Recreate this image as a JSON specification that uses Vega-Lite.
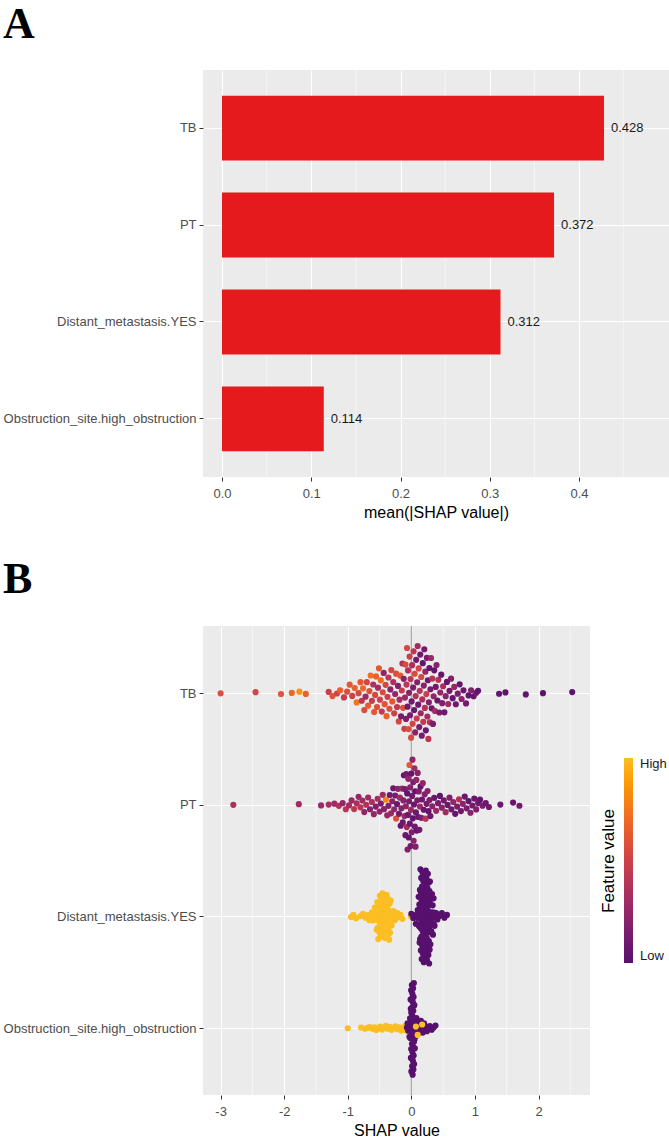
{
  "$schema": "https://vega.github.io/schema/vega-lite/v6.json",
  "padding": {"left": 3, "top": 2, "right": 0, "bottom": 0},
  "config": {
    "view": {"fill": "#EBEBEB", "stroke": null},
    "font": "Liberation Sans",
    "axis": {"domain": false, "labelColor": "#4D4D4D", "labelFontSize": 13, "labelFont": "Liberation Sans", "labelLimit": 320, "tickColor": "#333333", "tickSize": 4, "tickWidth": 1, "gridColor": "#FFFFFF", "gridWidth": 1.1, "titleFont": "Liberation Sans", "titleFontSize": 16, "titleFontWeight": "normal", "titleColor": "#000000"},
    "axisX": {"labelPadding": 6, "titlePadding": 4},
    "axisY": {"labelPadding": 3},
    "title": {"font": "Liberation Serif", "fontSize": 44, "fontWeight": "bold", "color": "#000000", "anchor": "start", "frame": "bounds"},
    "concat": {"spacing": 38}
  },
  "resolve": {"legend": {"color": "independent"}},
  "datasets": {
    "importance": [
      {"feature": "TB", "importance": 0.428},
      {"feature": "PT", "importance": 0.372},
      {"feature": "Distant_metastasis.YES", "importance": 0.312},
      {"feature": "Obstruction_site.high_obstruction", "importance": 0.114}
    ],
    "minorA": [{"tick": 0.05}, {"tick": 0.15}, {"tick": 0.25}, {"tick": 0.35}, {"tick": 0.45}],
    "minorB": [{"tick": -2.5}, {"tick": -1.5}, {"tick": -0.5}, {"tick": 0.5}, {"tick": 1.5}, {"tick": 2.5}],
    "TB": [
      {"shap":-3.00,"value":0.58},{"shap":-2.45,"value":0.52},{"shap":-2.05,"value":0.60},{"shap":-1.88,"value":0.70},{"shap":-1.76,"value":0.85},{"shap":-1.66,"value":0.66},
      {"shap":-1.30,"value":0.48},{"shap":-1.24,"value":0.60},{"shap":-1.17,"value":0.52},{"shap":-1.12,"value":0.66},{"shap":-1.06,"value":0.46},{"shap":-1.01,"value":0.58},
      {"shap":-0.97,"value":0.62},{"shap":-0.93,"value":0.50},{"shap":-0.89,"value":0.66},{"shap":-0.86,"value":0.74},{"shap":-0.83,"value":0.54},{"shap":-0.80,"value":0.62},
      {"shap":-0.78,"value":0.42},{"shap":-0.76,"value":0.68},{"shap":-0.74,"value":0.56},{"shap":-0.72,"value":0.28},{"shap":-0.70,"value":0.52},{"shap":-0.68,"value":0.64},
      {"shap":-0.66,"value":0.58},{"shap":-0.64,"value":0.72},{"shap":-0.62,"value":0.46},{"shap":-0.60,"value":0.36},{"shap":-0.585,"value":0.62},{"shap":-0.57,"value":0.54},
      {"shap":-0.555,"value":0.66},{"shap":-0.54,"value":0.58},{"shap":-0.525,"value":0.32},{"shap":-0.51,"value":0.62},{"shap":-0.495,"value":0.50},{"shap":-0.48,"value":0.70},
      {"shap":-0.465,"value":0.44},{"shap":-0.45,"value":0.56},{"shap":-0.435,"value":0.24},{"shap":-0.42,"value":0.60},{"shap":-0.405,"value":0.54},{"shap":-0.39,"value":0.66},
      {"shap":-0.375,"value":0.48},{"shap":-0.36,"value":0.40},{"shap":-0.345,"value":0.58},{"shap":-0.33,"value":0.20},{"shap":-0.315,"value":0.54},{"shap":-0.30,"value":0.62},
      {"shap":-0.285,"value":0.36},{"shap":-0.27,"value":0.50},{"shap":-0.255,"value":0.26},{"shap":-0.24,"value":0.58},{"shap":-0.225,"value":0.44},{"shap":-0.21,"value":0.18},
      {"shap":-0.198,"value":0.54},{"shap":-0.186,"value":0.32},{"shap":-0.174,"value":0.62},{"shap":-0.162,"value":0.14},{"shap":-0.150,"value":0.46},{"shap":-0.140,"value":0.36},
      {"shap":-0.130,"value":0.58},{"shap":-0.120,"value":0.20},{"shap":-0.110,"value":0.50},{"shap":-0.100,"value":0.28},{"shap":-0.092,"value":0.56},{"shap":-0.084,"value":0.16},
      {"shap":-0.076,"value":0.42},{"shap":-0.068,"value":0.54},{"shap":-0.060,"value":0.12},{"shap":-0.052,"value":0.38},{"shap":-0.044,"value":0.58},{"shap":-0.036,"value":0.22},
      {"shap":-0.028,"value":0.48},{"shap":-0.020,"value":0.14},{"shap":-0.012,"value":0.42},{"shap":-0.004,"value":0.56},{"shap":0.004,"value":0.10},{"shap":0.012,"value":0.36},
      {"shap":0.020,"value":0.52},{"shap":0.028,"value":0.16},{"shap":0.036,"value":0.42},{"shap":0.044,"value":0.08},{"shap":0.052,"value":0.56},{"shap":0.060,"value":0.22},
      {"shap":0.068,"value":0.38},{"shap":0.076,"value":0.12},{"shap":0.084,"value":0.46},{"shap":0.092,"value":0.18},{"shap":0.100,"value":0.32},{"shap":0.108,"value":0.08},
      {"shap":0.116,"value":0.52},{"shap":0.124,"value":0.14},{"shap":0.132,"value":0.40},{"shap":0.140,"value":0.10},{"shap":0.148,"value":0.28},{"shap":0.156,"value":0.54},
      {"shap":0.164,"value":0.16},{"shap":0.172,"value":0.34},{"shap":0.180,"value":0.06},{"shap":0.188,"value":0.44},{"shap":0.196,"value":0.20},{"shap":0.204,"value":0.12},
      {"shap":0.212,"value":0.38},{"shap":0.220,"value":0.26},{"shap":0.228,"value":0.08},{"shap":0.236,"value":0.48},{"shap":0.244,"value":0.14},{"shap":0.252,"value":0.32},
      {"shap":0.260,"value":0.10},{"shap":0.268,"value":0.42},{"shap":0.276,"value":0.18},{"shap":0.284,"value":0.06},{"shap":0.292,"value":0.36},{"shap":0.300,"value":0.14},
      {"shap":0.310,"value":0.28},{"shap":0.320,"value":0.08},{"shap":0.330,"value":0.40},{"shap":0.340,"value":0.16},{"shap":0.350,"value":0.24},{"shap":0.360,"value":0.06},
      {"shap":0.372,"value":0.32},{"shap":0.384,"value":0.12},{"shap":0.396,"value":0.20},{"shap":0.41,"value":0.08},{"shap":0.425,"value":0.38},{"shap":0.44,"value":0.14},
      {"shap":0.455,"value":0.26},{"shap":0.47,"value":0.06},{"shap":0.485,"value":0.18},{"shap":0.50,"value":0.34},{"shap":0.52,"value":0.10},{"shap":0.54,"value":0.22},
      {"shap":0.56,"value":0.05},{"shap":0.58,"value":0.30},{"shap":0.60,"value":0.12},{"shap":0.625,"value":0.18},{"shap":0.65,"value":0.06},{"shap":0.675,"value":0.26},
      {"shap":0.70,"value":0.10},{"shap":0.73,"value":0.16},{"shap":0.76,"value":0.05},{"shap":0.79,"value":0.22},{"shap":0.82,"value":0.08},{"shap":0.86,"value":0.12},
      {"shap":0.90,"value":0.05},{"shap":0.94,"value":0.18},{"shap":0.98,"value":0.06},{"shap":1.02,"value":0.10},{"shap":1.05,"value":0.04},{"shap":1.38,"value":0.05},
      {"shap":1.48,"value":0.04},{"shap":1.80,"value":0.05},{"shap":2.07,"value":0.04},{"shap":2.53,"value":0.04}
    ],
    "PT": [
      {"shap":-2.80,"value":0.36},{"shap":-1.77,"value":0.30},{"shap":-1.42,"value":0.28},{"shap":-1.30,"value":0.34},{"shap":-1.21,"value":0.30},{"shap":-1.14,"value":0.38},
      {"shap":-1.08,"value":0.26},{"shap":-1.03,"value":0.40},{"shap":-0.98,"value":0.33},{"shap":-0.94,"value":0.28},{"shap":-0.90,"value":0.42},{"shap":-0.86,"value":0.35},
      {"shap":-0.83,"value":0.27},{"shap":-0.80,"value":0.40},{"shap":-0.77,"value":0.31},{"shap":-0.74,"value":0.24},{"shap":-0.71,"value":0.38},{"shap":-0.68,"value":0.29},
      {"shap":-0.65,"value":0.20},{"shap":-0.62,"value":0.35},{"shap":-0.59,"value":0.26},{"shap":-0.56,"value":0.18},{"shap":-0.53,"value":0.33},{"shap":-0.50,"value":0.24},
      {"shap":-0.48,"value":0.15},{"shap":-0.45,"value":0.30},{"shap":-0.43,"value":0.21},{"shap":-0.40,"value":0.80},{"shap":-0.38,"value":0.27},{"shap":-0.36,"value":0.18},
      {"shap":-0.34,"value":0.12},{"shap":-0.32,"value":0.28},{"shap":-0.30,"value":0.20},{"shap":-0.285,"value":0.10},{"shap":-0.27,"value":0.25},{"shap":-0.255,"value":0.15},
      {"shap":-0.24,"value":0.58},{"shap":-0.225,"value":0.08},{"shap":-0.21,"value":0.22},{"shap":-0.195,"value":0.12},{"shap":-0.18,"value":0.30},{"shap":-0.168,"value":0.06},
      {"shap":-0.156,"value":0.18},{"shap":-0.145,"value":0.26},{"shap":-0.135,"value":0.10},{"shap":-0.126,"value":0.20},{"shap":-0.117,"value":0.05},{"shap":-0.108,"value":0.28},
      {"shap":-0.100,"value":0.14},{"shap":-0.093,"value":0.08},{"shap":-0.086,"value":0.22},{"shap":-0.079,"value":0.12},{"shap":-0.072,"value":0.32},{"shap":-0.066,"value":0.06},
      {"shap":-0.060,"value":0.18},{"shap":-0.054,"value":0.10},{"shap":-0.048,"value":0.25},{"shap":-0.042,"value":0.05},{"shap":-0.036,"value":0.15},{"shap":-0.030,"value":0.62},
      {"shap":-0.024,"value":0.08},{"shap":-0.018,"value":0.20},{"shap":-0.012,"value":0.12},{"shap":-0.006,"value":0.28},{"shap":0.000,"value":0.06},{"shap":0.006,"value":0.16},
      {"shap":0.012,"value":0.10},{"shap":0.018,"value":0.24},{"shap":0.024,"value":0.05},{"shap":0.030,"value":0.14},{"shap":0.036,"value":0.20},{"shap":0.042,"value":0.08},
      {"shap":0.048,"value":0.30},{"shap":0.054,"value":0.12},{"shap":0.060,"value":0.05},{"shap":0.066,"value":0.18},{"shap":0.072,"value":0.10},{"shap":0.079,"value":0.26},
      {"shap":0.086,"value":0.06},{"shap":0.093,"value":0.15},{"shap":0.100,"value":0.22},{"shap":0.108,"value":0.08},{"shap":0.117,"value":0.18},{"shap":0.126,"value":0.12},
      {"shap":0.135,"value":0.28},{"shap":0.145,"value":0.05},{"shap":0.156,"value":0.16},{"shap":0.168,"value":0.10},{"shap":0.18,"value":0.24},{"shap":0.195,"value":0.08},
      {"shap":0.21,"value":0.18},{"shap":0.225,"value":0.40},{"shap":0.24,"value":0.12},{"shap":0.255,"value":0.22},{"shap":0.27,"value":0.06},{"shap":0.285,"value":0.16},
      {"shap":0.30,"value":0.10},{"shap":0.33,"value":0.20},{"shap":0.36,"value":0.08},{"shap":0.39,"value":0.28},{"shap":0.42,"value":0.14},{"shap":0.45,"value":0.05},
      {"shap":0.48,"value":0.22},{"shap":0.51,"value":0.12},{"shap":0.54,"value":0.30},{"shap":0.57,"value":0.08},{"shap":0.60,"value":0.18},{"shap":0.63,"value":0.10},
      {"shap":0.66,"value":0.26},{"shap":0.69,"value":0.06},{"shap":0.72,"value":0.16},{"shap":0.75,"value":0.38},{"shap":0.78,"value":0.10},{"shap":0.81,"value":0.22},
      {"shap":0.84,"value":0.08},{"shap":0.87,"value":0.15},{"shap":0.90,"value":0.05},{"shap":0.93,"value":0.20},{"shap":0.96,"value":0.12},{"shap":0.99,"value":0.08},
      {"shap":1.02,"value":0.18},{"shap":1.05,"value":0.10},{"shap":1.08,"value":0.05},{"shap":1.12,"value":0.15},{"shap":1.17,"value":0.08},{"shap":1.22,"value":0.12},
      {"shap":1.40,"value":0.10},{"shap":1.60,"value":0.06},{"shap":1.70,"value":0.12}
    ],
    "DM": [
      {"shap":-0.95,"value":1},{"shap":-0.91,"value":1},{"shap":-0.87,"value":1},{"shap":-0.80,"value":1},{"shap":-0.76,"value":1},{"shap":-0.72,"value":1},
      {"shap":-0.69,"value":1},{"shap":-0.66,"value":1},{"shap":-0.64,"value":1},{"shap":-0.62,"value":1},{"shap":-0.60,"value":1},{"shap":-0.58,"value":1},
      {"shap":-0.565,"value":1},{"shap":-0.55,"value":1},{"shap":-0.54,"value":1},{"shap":-0.53,"value":1},{"shap":-0.52,"value":1},{"shap":-0.51,"value":1},
      {"shap":-0.50,"value":1},{"shap":-0.49,"value":1},{"shap":-0.48,"value":1},{"shap":-0.47,"value":1},{"shap":-0.46,"value":1},{"shap":-0.45,"value":1},
      {"shap":-0.44,"value":1},{"shap":-0.43,"value":1},{"shap":-0.42,"value":1},{"shap":-0.41,"value":1},{"shap":-0.40,"value":1},{"shap":-0.39,"value":1},
      {"shap":-0.38,"value":1},{"shap":-0.37,"value":1},{"shap":-0.36,"value":1},{"shap":-0.35,"value":1},{"shap":-0.34,"value":1},{"shap":-0.33,"value":1},
      {"shap":-0.32,"value":1},{"shap":-0.31,"value":1},{"shap":-0.295,"value":1},{"shap":-0.28,"value":1},{"shap":-0.26,"value":1},{"shap":-0.24,"value":1},
      {"shap":-0.22,"value":1},{"shap":-0.20,"value":1},{"shap":-0.17,"value":1},{"shap":-0.14,"value":1},{"shap":-0.01,"value":1},
      {"shap":-0.575,"value":1},{"shap":-0.545,"value":1},{"shap":-0.535,"value":1},{"shap":-0.525,"value":1},{"shap":-0.515,"value":1},{"shap":-0.505,"value":1},
      {"shap":-0.495,"value":1},{"shap":-0.485,"value":1},{"shap":-0.475,"value":1},{"shap":-0.465,"value":1},{"shap":-0.455,"value":1},{"shap":-0.445,"value":1},
      {"shap":-0.435,"value":1},{"shap":-0.425,"value":1},{"shap":-0.415,"value":1},{"shap":-0.405,"value":1},{"shap":-0.395,"value":1},{"shap":-0.385,"value":1},
      {"shap":-0.375,"value":1},{"shap":-0.365,"value":1},{"shap":-0.355,"value":1},{"shap":-0.345,"value":1},{"shap":-0.335,"value":1},{"shap":-0.325,"value":1},
      {"shap":-0.315,"value":1},
      {"shap":0.00,"value":0},{"shap":0.03,"value":0},{"shap":0.05,"value":0},{"shap":0.07,"value":0},{"shap":0.09,"value":0},{"shap":0.10,"value":0},
      {"shap":0.11,"value":0},{"shap":0.12,"value":0},{"shap":0.13,"value":0},{"shap":0.135,"value":0},{"shap":0.14,"value":0},{"shap":0.145,"value":0},
      {"shap":0.15,"value":0},{"shap":0.155,"value":0},{"shap":0.16,"value":0},{"shap":0.165,"value":0},{"shap":0.17,"value":0},{"shap":0.175,"value":0},
      {"shap":0.18,"value":0},{"shap":0.185,"value":0},{"shap":0.19,"value":0},{"shap":0.195,"value":0},{"shap":0.20,"value":0},{"shap":0.205,"value":0},
      {"shap":0.21,"value":0},{"shap":0.215,"value":0},{"shap":0.22,"value":0},{"shap":0.225,"value":0},{"shap":0.23,"value":0},{"shap":0.235,"value":0},
      {"shap":0.24,"value":0},{"shap":0.245,"value":0},{"shap":0.25,"value":0},{"shap":0.255,"value":0},{"shap":0.26,"value":0},{"shap":0.265,"value":0},
      {"shap":0.27,"value":0},{"shap":0.275,"value":0},{"shap":0.28,"value":0},{"shap":0.285,"value":0},{"shap":0.29,"value":0},{"shap":0.295,"value":0},
      {"shap":0.30,"value":0},{"shap":0.31,"value":0},{"shap":0.32,"value":0},{"shap":0.33,"value":0},{"shap":0.34,"value":0},{"shap":0.35,"value":0},
      {"shap":0.36,"value":0},{"shap":0.37,"value":0},{"shap":0.39,"value":0},{"shap":0.41,"value":0},{"shap":0.44,"value":0},{"shap":0.48,"value":0},
      {"shap":0.52,"value":0},{"shap":0.56,"value":0},
      {"shap":0.105,"value":0},{"shap":0.115,"value":0},{"shap":0.125,"value":0},{"shap":0.1325,"value":0},{"shap":0.1375,"value":0},{"shap":0.1425,"value":0},
      {"shap":0.1475,"value":0},{"shap":0.1525,"value":0},{"shap":0.1575,"value":0},{"shap":0.1625,"value":0},{"shap":0.1675,"value":0},{"shap":0.1725,"value":0},
      {"shap":0.1775,"value":0},{"shap":0.1825,"value":0},{"shap":0.1875,"value":0},{"shap":0.1925,"value":0},{"shap":0.1975,"value":0},{"shap":0.2025,"value":0},
      {"shap":0.2075,"value":0},{"shap":0.2125,"value":0},{"shap":0.2175,"value":0},{"shap":0.2225,"value":0},{"shap":0.2275,"value":0},{"shap":0.2325,"value":0},
      {"shap":0.2375,"value":0},{"shap":0.2425,"value":0},{"shap":0.2475,"value":0},{"shap":0.2525,"value":0},{"shap":0.2575,"value":0},{"shap":0.2625,"value":0},
      {"shap":0.2675,"value":0},{"shap":0.2725,"value":0},{"shap":0.2775,"value":0},{"shap":0.2825,"value":0},{"shap":0.2875,"value":0},{"shap":0.2925,"value":0},
      {"shap":0.2975,"value":0},{"shap":0.305,"value":0},{"shap":0.315,"value":0},{"shap":0.325,"value":0},{"shap":0.335,"value":0},{"shap":0.345,"value":0},
      {"shap":0.355,"value":0},{"shap":0.365,"value":0}
    ],
    "OB": [
      {"shap":-1.00,"value":1},{"shap":-0.79,"value":1},{"shap":-0.73,"value":1},{"shap":-0.69,"value":1},{"shap":-0.65,"value":1},{"shap":-0.61,"value":1},
      {"shap":-0.58,"value":1},{"shap":-0.55,"value":1},{"shap":-0.52,"value":1},{"shap":-0.49,"value":1},{"shap":-0.46,"value":1},{"shap":-0.43,"value":1},
      {"shap":-0.40,"value":1},{"shap":-0.37,"value":1},{"shap":-0.34,"value":1},{"shap":-0.31,"value":1},{"shap":-0.28,"value":1},{"shap":-0.25,"value":1},
      {"shap":-0.22,"value":1},{"shap":-0.19,"value":1},{"shap":-0.16,"value":1},{"shap":-0.13,"value":1},{"shap":-0.10,"value":1},{"shap":-0.08,"value":1},
      {"shap":-0.07,"value":0},{"shap":-0.06,"value":0},{"shap":-0.05,"value":0},{"shap":-0.04,"value":0},{"shap":-0.03,"value":0},{"shap":-0.025,"value":0},
      {"shap":-0.02,"value":0},{"shap":-0.015,"value":0},{"shap":-0.01,"value":0},{"shap":-0.007,"value":0},{"shap":-0.004,"value":0},{"shap":-0.001,"value":0},
      {"shap":0.002,"value":0},{"shap":0.005,"value":0},{"shap":0.008,"value":0},{"shap":0.011,"value":0},{"shap":0.014,"value":0},{"shap":0.017,"value":0},
      {"shap":0.020,"value":0},{"shap":0.023,"value":0},{"shap":0.026,"value":0},{"shap":0.029,"value":0},{"shap":0.032,"value":0},{"shap":0.035,"value":0},
      {"shap":0.038,"value":0},{"shap":0.041,"value":0},{"shap":0.044,"value":0},{"shap":0.047,"value":0},{"shap":0.050,"value":0},{"shap":0.055,"value":0},
      {"shap":0.060,"value":0},{"shap":0.065,"value":0},{"shap":0.070,"value":0},{"shap":0.080,"value":0},{"shap":0.090,"value":0},{"shap":0.100,"value":0},
      {"shap":0.110,"value":0},{"shap":0.120,"value":0},{"shap":0.140,"value":0},{"shap":0.160,"value":0},{"shap":0.180,"value":0},{"shap":0.200,"value":0},
      {"shap":0.230,"value":0},{"shap":0.260,"value":0},{"shap":0.290,"value":0},{"shap":0.320,"value":0},{"shap":0.350,"value":0},{"shap":0.380,"value":0},
      {"shap":-0.0175,"value":0},{"shap":-0.0125,"value":0},{"shap":-0.0085,"value":0},{"shap":-0.0055,"value":0},{"shap":-0.0025,"value":0},{"shap":0.0005,"value":0},
      {"shap":0.0035,"value":0},{"shap":0.0065,"value":0},{"shap":0.0095,"value":0},{"shap":0.0125,"value":0},{"shap":0.0155,"value":0},{"shap":0.0185,"value":0},
      {"shap":0.0215,"value":0},{"shap":0.0245,"value":0},{"shap":0.0275,"value":0},{"shap":0.0305,"value":0},{"shap":0.0335,"value":0},{"shap":0.0365,"value":0},
      {"shap":0.0395,"value":0},{"shap":0.0425,"value":0},{"shap":0.0455,"value":0},{"shap":0.0485,"value":0},
      {"shap":0.130,"value":0},{"shap":0.150,"value":0},{"shap":0.190,"value":0},{"shap":0.215,"value":0},{"shap":0.245,"value":0},
      {"shap":0.072,"value":1},{"shap":0.100,"value":1},{"shap":0.170,"value":1}
    ]
  },
  "vconcat": [
    {
      "title": {"text": "A", "offset": 23},
      "width": 466,
      "height": 407,
      "layer": [
        {
          "data": {"name": "minorA"},
          "mark": {"type": "rule", "color": "#FFFFFF", "strokeWidth": 0.55},
          "encoding": {
            "x": {"field": "tick", "type": "quantitative", "title": "mean(|SHAP value|)", "scale": {"domain": [-0.0213, 0.5008], "nice": false, "zero": false}, "axis": {"values": [0, 0.1, 0.2, 0.3, 0.4], "format": ".1f", "grid": true}}
          }
        },
        {
          "data": {"name": "importance"},
          "encoding": {
            "y": {"field": "feature", "type": "nominal", "sort": null, "title": null, "scale": {"paddingInner": 0.33, "paddingOuter": 0.265}, "axis": {"grid": true}},
            "x": {"field": "importance", "type": "quantitative", "title": "mean(|SHAP value|)", "scale": {"domain": [-0.0213, 0.5008], "nice": false, "zero": false}, "axis": {"values": [0, 0.1, 0.2, 0.3, 0.4], "format": ".1f", "grid": true}}
          },
          "layer": [
            {"mark": {"type": "bar", "color": "#E41A1C"}},
            {"mark": {"type": "text", "align": "left", "baseline": "middle", "dx": 7, "fontSize": 13, "color": "#1A1A1A"}, "encoding": {"text": {"field": "importance", "type": "quantitative", "format": ".3f"}}}
          ]
        }
      ]
    },
    {
      "title": {"text": "B", "offset": 23},
      "width": 387,
      "height": 469,
      "layer": [
        {
          "data": {"name": "minorB"},
          "mark": {"type": "rule", "color": "#FFFFFF", "strokeWidth": 0.55},
          "encoding": {
            "x": {"field": "tick", "type": "quantitative", "title": "SHAP value", "scale": {"domain": [-3.277, 2.81], "nice": false, "zero": false}, "axis": {"values": [-3, -2, -1, 0, 1, 2], "grid": true, "labelExpr": "replace(datum.label, '\u2212', '-')"}}
          }
        },
        {
          "data": {"values": [{}]},
          "mark": {"type": "rule", "color": "#A9A9A9", "strokeWidth": 1.2},
          "encoding": {
            "x": {"datum": 0, "type": "quantitative", "title": "SHAP value", "scale": {"domain": [-3.277, 2.81], "nice": false, "zero": false}, "axis": {"values": [-3, -2, -1, 0, 1, 2], "grid": true, "labelExpr": "replace(datum.label, '\u2212', '-')"}}
          }
        },
        {
          "encoding": {
            "x": {"field": "shap", "type": "quantitative", "title": "SHAP value", "scale": {"domain": [-3.277, 2.81], "nice": false, "zero": false}, "axis": {"values": [-3, -2, -1, 0, 1, 2], "grid": true, "labelExpr": "replace(datum.label, '\u2212', '-')"}},
            "y": {"field": "row", "type": "quantitative", "title": null, "scale": {"domain": [0.4, 4.6], "reverse": true, "nice": false, "zero": false}, "axis": {"values": [1, 2, 3, 4], "grid": true, "labelExpr": "['TB', 'PT', 'Distant_metastasis.YES', 'Obstruction_site.high_obstruction'][datum.value - 1]"}},
            "color": {"field": "value", "type": "quantitative", "scale": {"scheme": {"name": "inferno", "extent": [0.25, 0.85]}, "domain": [0, 1]},
              "legend": {"orient": "none", "legendX": 397, "legendY": 132, "direction": "vertical", "title": "Feature value", "titleOrient": "left", "titleAnchor": "middle", "titleFontSize": 17, "titleFontWeight": "normal", "titleColor": "#000000", "titlePadding": 5, "gradientLength": 205, "gradientThickness": 9, "gradientStrokeWidth": 0, "values": [0, 1], "labelExpr": "datum.value > 0.5 ? 'High' : 'Low'", "labelFontSize": 13, "labelColor": "#1A1A1A", "labelOffset": 7, "labelBaseline": "middle"}}
          },
          "layer": [
            {"data": {"name": "TB"}, "transform": [
              {"window": [{"op": "row_number", "as": "rank"}, {"op": "min", "field": "shap", "as": "lo"}, {"op": "max", "field": "shap", "as": "hi"}, {"op": "count", "as": "n"}], "sort": [{"field": "shap"}], "frame": [-4, 4]},
              {"calculate": "datum.n / max(datum.hi - datum.lo, 0.01)", "as": "dens"},
              {"joinaggregate": [{"op": "max", "field": "dens", "as": "dmax"}]},
              {"calculate": "1 + (((datum.rank * 0.618034) % 1) - 0.5) * 0.85 * datum.dens / datum.dmax", "as": "row"}
            ], "mark": {"type": "circle", "size": 38, "opacity": 1}},
            {"data": {"name": "PT"}, "transform": [
              {"window": [{"op": "row_number", "as": "rank"}, {"op": "min", "field": "shap", "as": "lo"}, {"op": "max", "field": "shap", "as": "hi"}, {"op": "count", "as": "n"}], "sort": [{"field": "shap"}], "frame": [-4, 4]},
              {"calculate": "datum.n / max(datum.hi - datum.lo, 0.01)", "as": "dens"},
              {"joinaggregate": [{"op": "max", "field": "dens", "as": "dmax"}]},
              {"calculate": "2 + (((datum.rank * 0.618034) % 1) - 0.5) * 0.85 * datum.dens / datum.dmax", "as": "row"}
            ], "mark": {"type": "circle", "size": 38, "opacity": 1}},
            {"data": {"name": "DM"}, "transform": [
              {"window": [{"op": "row_number", "as": "rank"}, {"op": "min", "field": "shap", "as": "lo"}, {"op": "max", "field": "shap", "as": "hi"}, {"op": "count", "as": "n"}], "sort": [{"field": "shap"}], "frame": [-4, 4]},
              {"calculate": "datum.n / max(datum.hi - datum.lo, 0.005)", "as": "dens"},
              {"joinaggregate": [{"op": "max", "field": "dens", "as": "dmax"}]},
              {"calculate": "3 + (((datum.rank * 0.618034) % 1) - 0.5) * 0.85 * datum.dens / datum.dmax", "as": "row"}
            ], "mark": {"type": "circle", "size": 38, "opacity": 1}},
            {"data": {"name": "OB"}, "transform": [
              {"window": [{"op": "row_number", "as": "rank"}, {"op": "min", "field": "shap", "as": "lo"}, {"op": "max", "field": "shap", "as": "hi"}, {"op": "count", "as": "n"}], "sort": [{"field": "shap"}], "frame": [-4, 4]},
              {"calculate": "datum.n / max(datum.hi - datum.lo, 0.003)", "as": "dens"},
              {"joinaggregate": [{"op": "max", "field": "dens", "as": "dmax"}]},
              {"calculate": "4 + (((datum.rank * 0.618034) % 1) - 0.5) * 0.85 * datum.dens / datum.dmax", "as": "row"}
            ], "mark": {"type": "circle", "size": 38, "opacity": 1}}
          ]
        }
      ]
    }
  ]
}
